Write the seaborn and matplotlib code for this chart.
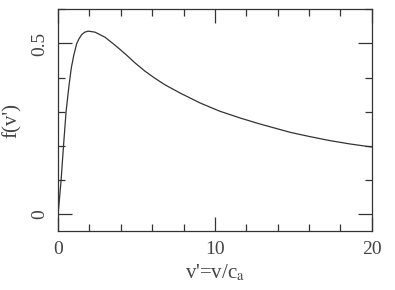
import matplotlib
matplotlib.use("Agg")
import matplotlib.pyplot as plt
import seaborn as sns
import pandas as pd
from matplotlib.ticker import MultipleLocator

# values
v_prime = [0, 0.06, 0.19, 0.34, 0.51, 0.70, 0.85, 1.0, 1.19, 1.35, 1.51, 1.7, 1.93,
           2.36, 3.0, 3.63, 4.27, 4.91, 5.54, 6.18, 6.82, 7.78, 9.05, 10.3, 11.6, 12.9,
           14.8, 16.0, 17.3, 18.6, 20.0]
f_v = [0, 0.03, 0.098, 0.196, 0.30, 0.378, 0.43, 0.465, 0.50, 0.515, 0.526, 0.533, 0.536,
       0.533, 0.518, 0.495, 0.470, 0.443, 0.419, 0.398, 0.379, 0.355, 0.326, 0.302, 0.282, 0.264,
       0.240, 0.228, 0.216, 0.206, 0.197]

df = pd.DataFrame({"v": v_prime, "f": f_v})

sns.set_style("ticks")
plt.rcParams['font.family'] = ['Liberation Serif', 'DejaVu Serif']
plt.rcParams['mathtext.fontset'] = 'stix'

fig = plt.figure(figsize=(3.95, 2.9), dpi=100)
ax = fig.add_axes([0.147, 0.202, 0.794, 0.766])

sns.lineplot(data=df, x="v", y="f", ax=ax, color="#333333", linewidth=0.9)

ax.set_xlim(0, 20)
ax.set_ylim(-0.05, 0.6)
ax.xaxis.set_minor_locator(MultipleLocator(2))
ax.yaxis.set_minor_locator(MultipleLocator(0.1))
ax.set_xticks([0, 10, 20])
ax.set_xticklabels(["0", "10", "20"])
ax.set_yticks([0, 0.5])
ax.set_yticklabels(["0", "0.5"], rotation=90, va="center")

ax.tick_params(which="both", direction="in", top=True, right=True, color="#333333",
               width=0.9, labelsize=14, labelcolor="#444444")
ax.tick_params(which="major", length=10, pad=7)
ax.tick_params(which="minor", length=5)
for s in ax.spines.values():
    s.set_linewidth(0.9)
    s.set_color("#333333")

ax.set_xlabel(r"v'=v/c$_{\rm a}$", fontsize=15, color="#444444", labelpad=3)
ax.set_ylabel("f(v')", fontsize=15, color="#444444", labelpad=7)

fig.savefig("out.png", dpi=100)
